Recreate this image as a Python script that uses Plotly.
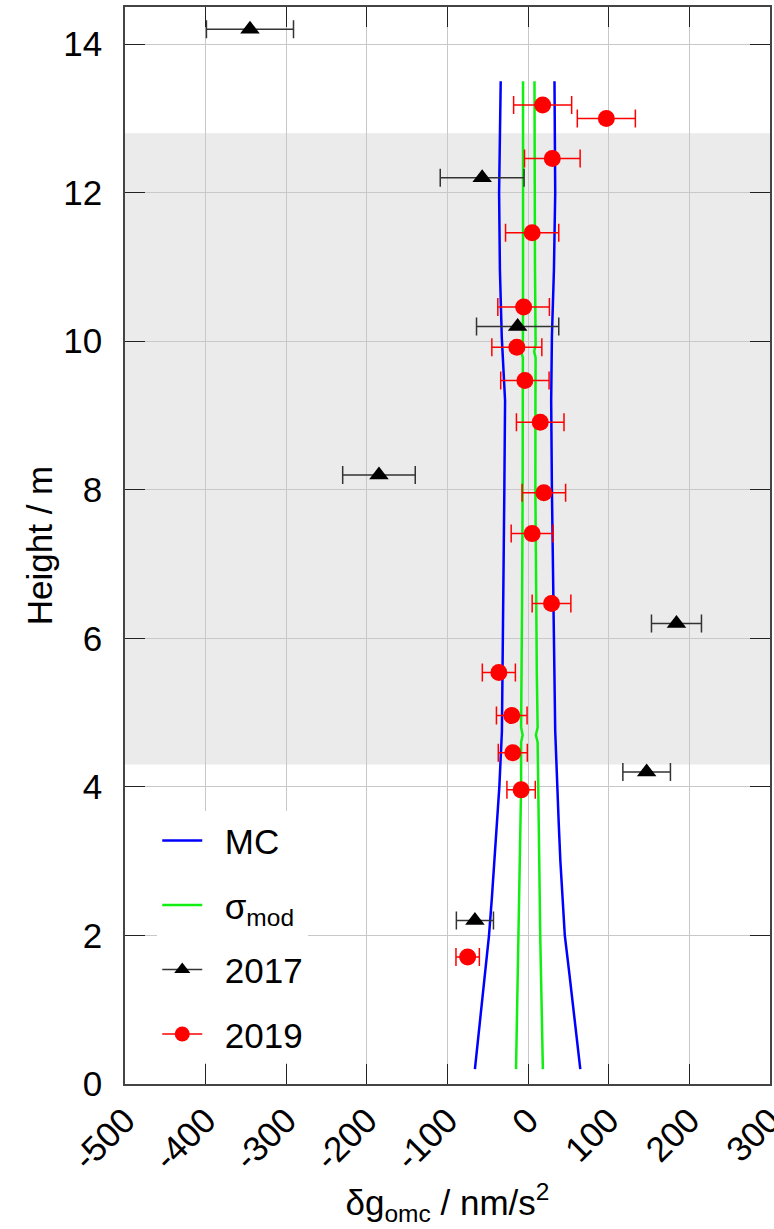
import plotly.graph_objects as go

# 2017 campaign
h17 = [14.2, 12.2, 10.2, 8.2, 6.2, 4.2, 2.2]
g17 = [-345, -57, -13, -185, 184, 147, -66]
e17 = [54, 52, 51, 45, 31, 29.5, 23]

# 2019 campaign
h19 = [13.18, 13.0, 12.46, 11.46, 10.46, 9.92, 9.47, 8.91, 7.96, 7.41, 6.47, 5.54, 4.96, 4.46, 3.96, 1.71]
g19 = [18, 97, 30, 5, -5.6, -14, -4, 15, 19.5, 5, 29, -36.3, -20.3, -19, -8.7, -75]
e19 = [36, 36, 34.5, 33, 32, 31, 30, 29.5, 27, 26, 24, 20.5, 19, 18, 17.6, 14.5]

# MC envelope
mc_h = [0.2, 0.6, 1.0, 1.5, 2.0, 2.5, 3.0, 3.5, 4.0, 4.75, 6.0, 7.0, 8.0, 9.2, 10.06, 10.96, 12.0, 13.5]
mc_lo = [-66, -62, -58.5, -53.5, -48.5, -45, -42, -38.8, -35.7, -32.5, -31, -30, -29.5, -28.6, -32.7, -35, -36, -34]
mc_hi = [64.7, 60.5, 57, 51, 45.5, 42.5, 40, 38, 36, 33.6, 32, 30.5, 29.5, 28.6, 29.5, 32, 33.6, 32.7]

# sigma_mod envelope
gm_h = [0.2, 1.0, 2.0, 3.0, 4.0, 4.6, 4.7, 4.8, 5.5, 6.5, 8.0, 9.2, 9.78, 9.86, 9.95, 11.0, 12.0, 13.5]
gm_lo = [-15, -13.5, -11.6, -10, -8.7, -8.7, -6.8, -8.7, -8, -7.5, -6.8, -6.9, -6.5, -8.5, -6.5, -6.3, -6.3, -6.3]
gm_hi = [18.3, 16.5, 15, 13.8, 12.8, 11.8, 9.6, 11.8, 10.8, 10, 9, 9.1, 9.3, 7.5, 9.3, 8.5, 8.2, 7.9]

band = [4.3, 12.8]
x_range = [-500, 300]
y_range = [0, 14.5]
x_ticks = [-500, -400, -300, -200, -100, 0, 100, 200, 300]
x_ticktext = ["-500", "-400", "-300", "-200", "-100", "0", "100", "200", "300"]
y_ticks = [0, 2, 4, 6, 8, 10, 12, 14]
y_ticktext = ["0", "2", "4", "6", "8", "10", "12", "14"]

BLUE = "#0000ff"
GREEN = "#11ee11"
RED = "#ff0000"
BLACK = "#000000"
FONT = "Liberation Sans"
FS = 35
GAP = "\u2002"

fig = go.Figure()

fig.add_trace(go.Scatter(x=mc_lo, y=mc_h, mode="lines", line=dict(color=BLUE, width=2.5),
                         name=GAP + "MC", legendgroup="mc", legendrank=1))
fig.add_trace(go.Scatter(x=mc_hi, y=mc_h, mode="lines", line=dict(color=BLUE, width=2.5),
                         name=GAP + "MC", legendgroup="mc", showlegend=False))
fig.add_trace(go.Scatter(x=gm_lo, y=gm_h, mode="lines", line=dict(color=GREEN, width=2.5),
                         name=GAP + "σ<sub>mod</sub>", legendgroup="gm", legendrank=2))
fig.add_trace(go.Scatter(x=gm_hi, y=gm_h, mode="lines", line=dict(color=GREEN, width=2.5),
                         name=GAP + "σ<sub>mod</sub>", legendgroup="gm", showlegend=False))

fig.add_trace(go.Scatter(x=g17, y=h17, mode="markers",
                         marker=dict(symbol="triangle-up", size=17, color=BLACK),
                         error_x=dict(type="data", array=e17, color="#333333", thickness=1.5, width=9),
                         name="2017", legendgroup="y17", showlegend=False))
fig.add_trace(go.Scatter(x=g19, y=h19, mode="markers",
                         marker=dict(symbol="circle", size=17, color=RED),
                         error_x=dict(type="data", array=e19, color=RED, thickness=1.5, width=9),
                         name="2019", legendgroup="y19", showlegend=False))
# legend stand-ins (line + marker look like the error-bar glyph)
fig.add_trace(go.Scatter(x=[None], y=[None], mode="lines+markers",
                         marker=dict(symbol="triangle-up", size=14, color=BLACK),
                         line=dict(color="#333333", width=1.5),
                         name=GAP + "2017", legendgroup="y17", legendrank=3))
fig.add_trace(go.Scatter(x=[None], y=[None], mode="lines+markers",
                         marker=dict(symbol="circle", size=15, color=RED),
                         line=dict(color=RED, width=1.5),
                         name=GAP + "2019", legendgroup="y19", legendrank=4))

fig.add_shape(type="rect", xref="paper", x0=0, x1=1, yref="y", y0=band[0], y1=band[1],
              fillcolor="#ebebeb", line=dict(width=0), layer="below")

axis_common = dict(
    showline=True, linecolor="#444444", linewidth=1.5, mirror="ticks",
    ticks="inside", ticklen=20, tickcolor="#222222", tickwidth=1.2,
    showgrid=True, gridcolor="#c8c8c8", gridwidth=1, zeroline=False,
    automargin=False,
    tickfont=dict(family=FONT, size=FS, color="#000000"),
)

fig.update_xaxes(range=x_range, tickmode="array", tickvals=x_ticks, ticktext=x_ticktext,
                 tickangle=-45, ticklabeloverflow="allow",
                 title=dict(text="δg<sub>omc</sub> / nm/s<sup>2</sup>",
                            font=dict(family=FONT, size=FS, color="#000000"), standoff=14),
                 **axis_common)
fig.update_yaxes(range=y_range, tickmode="array", tickvals=y_ticks, ticktext=y_ticktext,
                 ticklabelstandoff=14,
                 title=dict(text="Height / m",
                            font=dict(family=FONT, size=FS, color="#000000"), standoff=0),
                 **axis_common)

fig.update_layout(
    width=774, height=1229,
    margin=dict(l=125, r=4, t=7, b=145, autoexpand=False),
    plot_bgcolor="white", paper_bgcolor="white",
    font=dict(family=FONT, size=FS, color="#000000"),
    legend=dict(x=0.05, y=0.2533, xanchor="left", yanchor="top",
                bgcolor="white", borderwidth=0, tracegroupgap=16,
                traceorder="grouped", font=dict(family=FONT, size=FS),
                itemwidth=40),
)

fig.write_html("out.html")
